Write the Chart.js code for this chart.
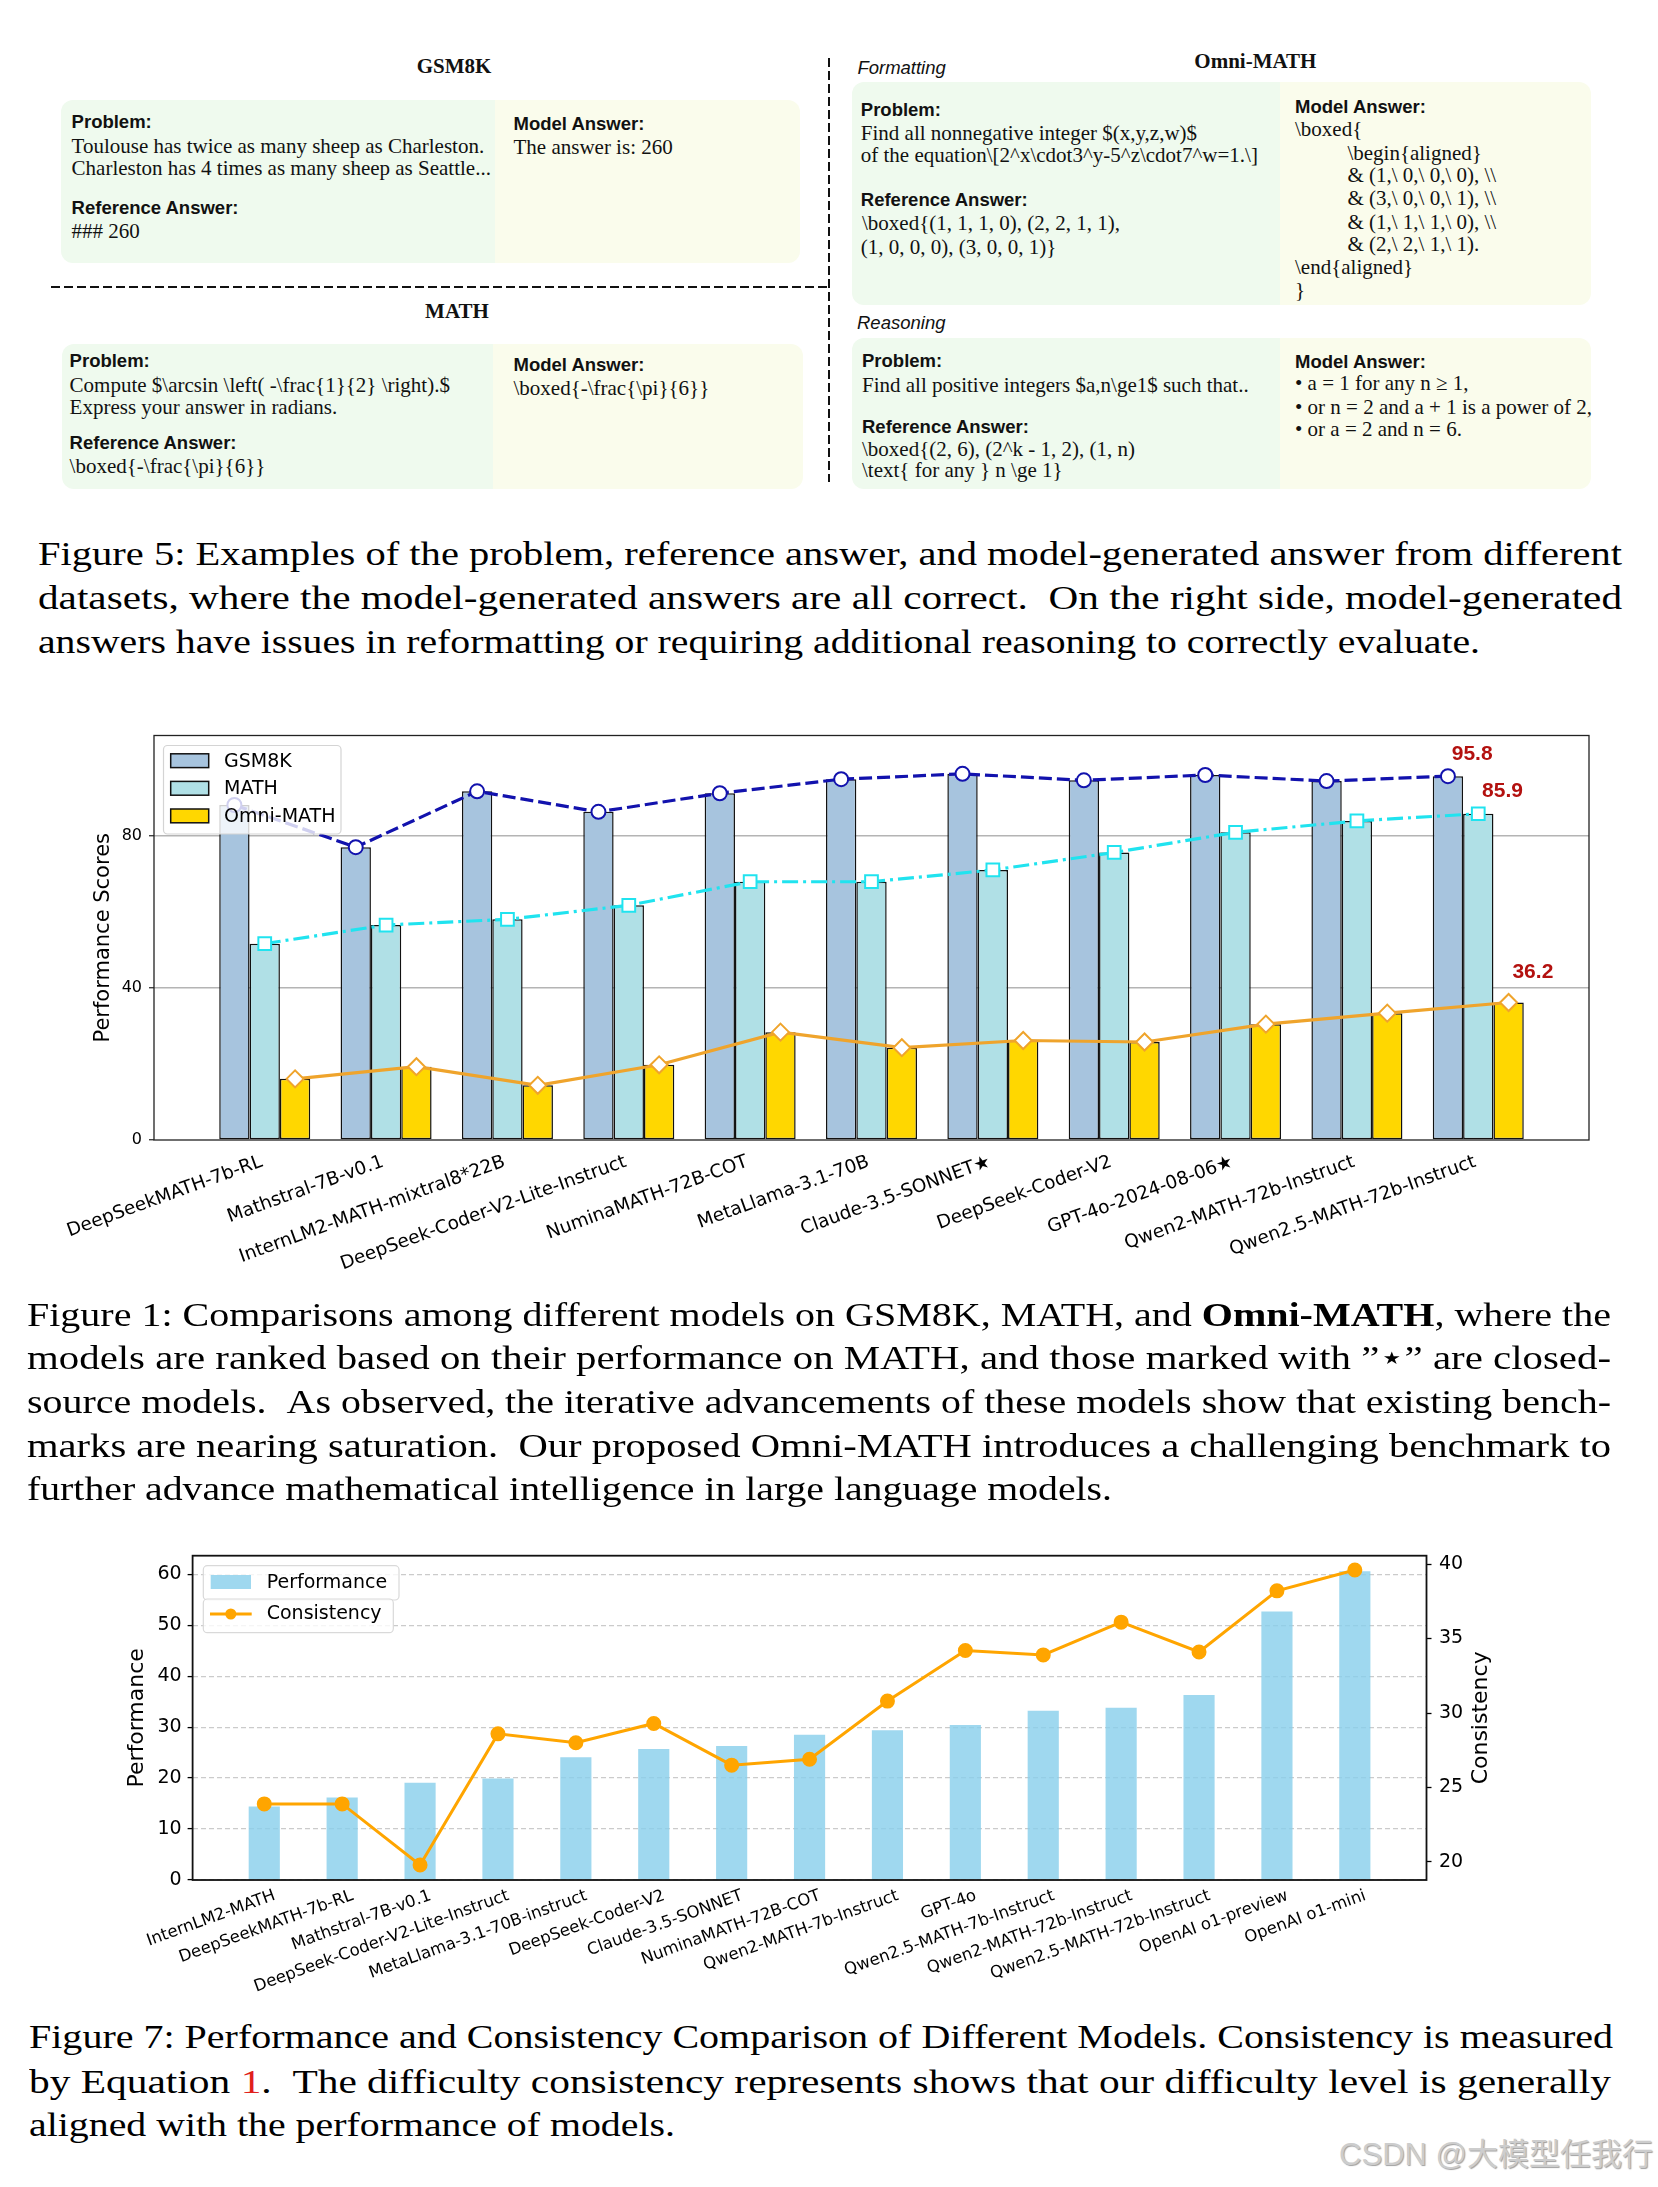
<!DOCTYPE html>
<html>
<head>
<meta charset="utf-8">
<title>Omni-MATH figures</title>
<script src="https://cdn.jsdelivr.net/npm/chart.js@4.4.1/dist/chart.umd.min.js"></script>
<style>
  html, body { margin: 0; padding: 0; background: #fff; }
  #page { position: relative; width: 1658px; height: 2187px; overflow: hidden; background: #fff; }
  .t { position: absolute; white-space: nowrap; line-height: 24px; color: #111; }
  .serif { font-family: 'Liberation Serif', 'Times New Roman', serif; font-size: 21px; }
  .hd { font-family: 'Liberation Sans', Arial, sans-serif; font-weight: bold; font-size: 18.5px; }
  .it { font-family: 'Liberation Sans', Arial, sans-serif; font-style: italic; font-size: 18.5px; }
  .ttl { font-family: 'Liberation Serif', serif; font-weight: bold; font-size: 21px; transform: translateX(-50%); }
  .box { position: absolute; border-radius: 12px; overflow: hidden; }
  .box .l, .box .r { position: absolute; top: 0; bottom: 0; }
  .box .l { left: 0; background: #effaee; }
  .box .r { right: 0; background: #fafcec; }
  .hdash { position: absolute; height: 2px; background: repeating-linear-gradient(to right, #111 0 9px, transparent 9px 13px); }
  .vdash { position: absolute; width: 2px; background: repeating-linear-gradient(to bottom, #111 0 9px, transparent 9px 13px); }
  .cap { position: absolute; display: inline-block; white-space: nowrap; font-family: 'Liberation Serif', 'Times New Roman', serif; font-size: 34px; line-height: 44px; color: #000; transform-origin: 0 50%; }
  .ref { color: #e0201c; }
  canvas { position: absolute; left: 0; }
  #wm { position: absolute; right: 5px; top: 2135px; line-height: 40px; font-size: 31px; font-family: 'Liberation Sans', 'Noto Sans CJK SC', sans-serif; color: #cdcdcd; text-shadow: 1px 1px 1px #a0a0a0; white-space: nowrap; }
</style>
</head>
<body>
<div id="page">

  <!-- Figure 5: example boxes -->
  <div class="vdash" style="left:828px; top:58px; height:424px"></div>
  <div class="hdash" style="left:51px; top:286px; width:779px"></div>

  <div class="box" style="left:61px; top:100px; width:739px; height:163px"><div class="l" style="width:434px"></div><div class="r" style="width:305px"></div></div>
  <div class="box" style="left:62px; top:344px; width:741px; height:145px"><div class="l" style="width:431px"></div><div class="r" style="width:310px"></div></div>
  <div class="box" style="left:852px; top:82px; width:739px; height:223px"><div class="l" style="width:428px"></div><div class="r" style="width:311px"></div></div>
  <div class="box" style="left:852px; top:338px; width:739px; height:151px"><div class="l" style="width:428px"></div><div class="r" style="width:311px"></div></div>

  <div class="t ttl" style="left:454px; top:54px">GSM8K</div>
  <div class="t hd" style="left:71.6px; top:110px">Problem:</div>
  <div class="t serif" style="left:71.6px; top:134px">Toulouse has twice as many sheep as Charleston.</div>
  <div class="t serif" style="left:71.6px; top:156.3px">Charleston has 4 times as many sheep as Seattle...</div>
  <div class="t hd" style="left:71.6px; top:196.3px">Reference Answer:</div>
  <div class="t serif" style="left:71.6px; top:219px">### 260</div>
  <div class="t hd" style="left:513.5px; top:112.3px">Model Answer:</div>
  <div class="t serif" style="left:513.5px; top:135.3px">The answer is: 260</div>

  <div class="t ttl" style="left:457px; top:298.7px">MATH</div>
  <div class="t hd" style="left:69.6px; top:348.7px">Problem:</div>
  <div class="t serif" style="left:69.6px; top:373px">Compute $\arcsin \left( -\frac{1}{2} \right).$</div>
  <div class="t serif" style="left:69.6px; top:394.7px">Express your answer in radians.</div>
  <div class="t hd" style="left:69.6px; top:431.3px">Reference Answer:</div>
  <div class="t serif" style="left:69.6px; top:454px">\boxed{-\frac{\pi}{6}}</div>
  <div class="t hd" style="left:513.5px; top:353px">Model Answer:</div>
  <div class="t serif" style="left:513.5px; top:376.3px">\boxed{-\frac{\pi}{6}}</div>

  <div class="t it" style="left:857.4px; top:56.3px">Formatting</div>
  <div class="t ttl" style="left:1255.4px; top:48.7px">Omni-MATH</div>
  <div class="t hd" style="left:860.8px; top:98px">Problem:</div>
  <div class="t serif" style="left:860.8px; top:120.7px">Find all nonnegative integer $(x,y,z,w)$</div>
  <div class="t serif" style="left:860.8px; top:143px">of the equation\[2^x\cdot3^y-5^z\cdot7^w=1.\]</div>
  <div class="t hd" style="left:860.8px; top:188px">Reference Answer:</div>
  <div class="t serif" style="left:862px; top:211.3px">\boxed{(1, 1, 1, 0), (2, 2, 1, 1),</div>
  <div class="t serif" style="left:860.8px; top:234.7px">(1, 0, 0, 0), (3, 0, 0, 1)}</div>
  <div class="t hd" style="left:1295px; top:94.7px">Model Answer:</div>
  <div class="t serif" style="left:1295px; top:117.3px">\boxed{</div>
  <div class="t serif" style="left:1347.4px; top:140.7px">\begin{aligned}</div>
  <div class="t serif" style="left:1347.4px; top:163px">&amp; (1,\ 0,\ 0,\ 0), \\</div>
  <div class="t serif" style="left:1347.4px; top:186.3px">&amp; (3,\ 0,\ 0,\ 1), \\</div>
  <div class="t serif" style="left:1347.4px; top:209.7px">&amp; (1,\ 1,\ 1,\ 0), \\</div>
  <div class="t serif" style="left:1347.4px; top:232px">&amp; (2,\ 2,\ 1,\ 1).</div>
  <div class="t serif" style="left:1295px; top:254.7px">\end{aligned}</div>
  <div class="t serif" style="left:1295px; top:278px">}</div>

  <div class="t it" style="left:857px; top:310.7px">Reasoning</div>
  <div class="t hd" style="left:862px; top:348.7px">Problem:</div>
  <div class="t serif" style="left:862px; top:373px">Find all positive integers $a,n\ge1$ such that..</div>
  <div class="t hd" style="left:862px; top:414.7px">Reference Answer:</div>
  <div class="t serif" style="left:862px; top:437.3px">\boxed{(2, 6), (2^k - 1, 2), (1, n)</div>
  <div class="t serif" style="left:862px; top:458px">\text{ for any } n \ge 1}</div>
  <div class="t hd" style="left:1295px; top:349.7px">Model Answer:</div>
  <div class="t serif" style="left:1295px; top:371.3px">• a = 1 for any n ≥ 1,</div>
  <div class="t serif" style="left:1295px; top:394.7px">• or n = 2 and a + 1 is a power of 2,</div>
  <div class="t serif" style="left:1295px; top:417.3px">• or a = 2 and n = 6.</div>

  <div class="cap" data-w="1584" style="left:37.7px; top:531.6px">Figure 5: Examples of the problem, reference answer, and model-generated answer from different</div>
  <div class="cap" data-w="1584" style="left:37.7px; top:576.2px">datasets, where the model-generated answers are all correct.&ensp;On the right side, model-generated</div>
  <div class="cap" data-w="1442" style="left:37.7px; top:619.5px">answers have issues in reformatting or requiring additional reasoning to correctly evaluate.</div>

  <canvas id="fig1" width="1658" height="600" style="top:700px"></canvas>

  <div class="cap" data-w="1584" style="left:26.5px; top:1293px">Figure 1: Comparisons among different models on GSM8K, MATH, and <b>Omni-MATH</b>, where the</div>
  <div class="cap" data-w="1584" style="left:26.5px; top:1336px">models are ranked based on their performance on MATH, and those marked with ”⋆” are closed-</div>
  <div class="cap" data-w="1584" style="left:26.5px; top:1379.5px">source models.&ensp;As observed, the iterative advancements of these models show that existing bench-</div>
  <div class="cap" data-w="1584" style="left:26.5px; top:1424px">marks are nearing saturation.&ensp;Our proposed Omni-MATH introduces a challenging benchmark to</div>
  <div class="cap" data-w="1085" style="left:26.5px; top:1467px">further advance mathematical intelligence in large language models.</div>

  <canvas id="fig7" width="1658" height="480" style="top:1530px"></canvas>

  <div class="cap" data-w="1584" style="left:29.3px; top:2015.4px">Figure 7: Performance and Consistency Comparison of Different Models. Consistency is measured</div>
  <div class="cap" data-w="1582" style="left:29.3px; top:2060px">by Equation <span class="ref">1</span>.&ensp;The difficulty consistency represents shows that our difficulty level is generally</div>
  <div class="cap" data-w="646" style="left:29.3px; top:2103px">aligned with the performance of models.</div>

  <div id="wm">CSDN @大模型任我行</div>
</div>

<script>
// Figure 1 data, models ranked by MATH
const models1 = ['DeepSeekMATH-7b-RL', 'Mathstral-7B-v0.1', 'InternLM2-MATH-mixtral8*22B', 'DeepSeek-Coder-V2-Lite-Instruct', 'NuminaMATH-72B-COT', 'MetaLlama-3.1-70B', 'Claude-3.5-SONNET★', 'DeepSeek-Coder-V2', 'GPT-4o-2024-08-06★', 'Qwen2-MATH-72b-Instruct', 'Qwen2.5-MATH-72b-Instruct']
const gsm8k = [88.2, 77.1, 91.8, 86.4, 91.3, 95.0, 96.4, 94.7, 96.1, 94.5, 95.8]
const math = [51.7, 56.6, 58.1, 61.8, 68.0, 68.0, 71.1, 75.7, 81.0, 84.0, 85.9]
const omni = [16.1, 19.3, 14.4, 19.8, 28.4, 24.3, 26.2, 25.8, 30.5, 33.4, 36.2]
const series1 = ['GSM8K', 'MATH', 'Omni-MATH']
const scoreTicks = [0, 40, 80]

// Figure 7 data
const models7 = ['InternLM2-MATH', 'DeepSeekMATH-7b-RL', 'Mathstral-7B-v0.1', 'DeepSeek-Coder-V2-Lite-Instruct', 'MetaLlama-3.1-70B-instruct', 'DeepSeek-Coder-V2', 'Claude-3.5-SONNET', 'NuminaMATH-72B-COT', 'Qwen2-MATH-7b-Instruct', 'GPT-4o', 'Qwen2.5-MATH-7b-Instruct', 'Qwen2-MATH-72b-Instruct', 'Qwen2.5-MATH-72b-Instruct', 'OpenAI o1-preview', 'OpenAI o1-mini']
const performance = [14.4, 16.2, 19.1, 19.9, 24.1, 25.7, 26.3, 28.5, 29.4, 30.4, 33.2, 33.8, 36.3, 52.7, 60.6]
const consistency = [23.9, 23.9, 19.8, 28.6, 28.0, 29.3, 26.5, 26.9, 30.8, 34.2, 33.9, 36.1, 34.1, 38.2, 39.6]
const perfTicks = [0, 10, 20, 30, 40, 50, 60]
const consTicks = [20, 25, 30, 35, 40]

// stretch caption lines to the width they take on the page
document.querySelectorAll('.cap').forEach(el => {
    const w = el.getBoundingClientRect().width
    el.style.transform = `scaleX(${el.dataset.w / w})`
})

const FONT = "'DejaVu Sans', sans-serif"
Chart.defaults.font.family = FONT
Chart.defaults.color = '#000'

const barColors = ['#a7c4de', '#b0e0e6', '#ffd700']
const lineColors = ['#1212ad', '#20e3ef', '#efa42c']
const at = (vals, shift) => vals.map((v, i) => ({x: i + shift, y: v}))
const fixedTicks = list => scale => { scale.ticks = list.map(v => ({value: v})) }

const frame = {
    id: 'frame',
    afterDatasetsDraw(chart, args, opts) {
        const {ctx, chartArea: a} = chart
        ctx.save()
        ctx.strokeStyle = opts.color
        ctx.lineWidth = opts.width
        ctx.strokeRect(a.left, a.top, a.right - a.left, a.bottom - a.top)
        ctx.restore()
    }
}

const fig1Legend = {
    id: 'fig1Legend',
    afterDraw(chart) {
        const {ctx, chartArea: a} = chart
        const x = a.left + 9.5, y = a.top + 10
        ctx.save()
        ctx.beginPath()
        ctx.roundRect(x, y, 177.5, 88.5, 4)
        ctx.fillStyle = 'rgba(255,255,255,0.8)'
        ctx.fill()
        ctx.strokeStyle = '#d4d4d4'
        ctx.lineWidth = 1.2
        ctx.stroke()
        ctx.font = '19px ' + FONT
        ctx.textBaseline = 'middle'
        series1.forEach((name, k) => {
            const cy = a.top + 25.2 + k * 27.6
            ctx.fillStyle = barColors[k]
            ctx.fillRect(x + 7.2, cy - 6.9, 38, 13.8)
            ctx.strokeStyle = '#111'
            ctx.lineWidth = 1.5
            ctx.strokeRect(x + 7.2, cy - 6.9, 38, 13.8)
            ctx.fillStyle = '#000'
            ctx.fillText(name, a.left + 70, cy + 1)
        })
        ctx.restore()
    }
}

// last value of each series, written above its marker
const finalLabels = [
    {data: gsm8k, shift: -0.25, lift: 5.7},
    {data: math, shift: 0, lift: 6.0},
    {data: omni, shift: 0.25, lift: 7.9},
]
const endLabels = {
    id: 'endLabels',
    afterDraw(chart) {
        const {ctx, scales: {x, y}} = chart
        ctx.save()
        ctx.font = "bold 21px 'Liberation Sans', Arial, sans-serif"
        ctx.fillStyle = '#b3110f'
        ctx.textAlign = 'center'
        ctx.textBaseline = 'middle'
        finalLabels.forEach(l => {
            const i = l.data.length - 1
            ctx.fillText(l.data[i].toFixed(1), x.getPixelForValue(i + l.shift + 0.2), y.getPixelForValue(l.data[i] + l.lift))
        })
        ctx.restore()
    }
}

const lineSet = (k, vals, shift, style, radius, dash) => ({
    type: 'line',
    label: series1[k] + ' trend',
    data: at(vals, shift),
    borderColor: lineColors[k],
    borderWidth: 3.2,
    borderDash: dash,
    tension: 0,
    pointStyle: style,
    pointRadius: radius,
    pointBackgroundColor: '#fff',
    pointBorderColor: lineColors[k],
    pointBorderWidth: 2,
    order: 1,
})
const barSet = (k, vals) => ({
    label: series1[k],
    data: at(vals, 0),
    backgroundColor: barColors[k],
    borderColor: '#111',
    borderWidth: 1.5,
    borderSkipped: false,
    categoryPercentage: 0.75,
    barPercentage: 1,
    order: 2,
})

new Chart(document.getElementById('fig1'), {
    type: 'bar',
    data: {
        datasets: [
            lineSet(0, gsm8k, -0.25, 'circle', 7, [13, 5]),
            lineSet(1, math, 0, 'rect', 9, [16, 5, 3, 5]),
            lineSet(2, omni, 0.25, 'rectRot', 8.5, []),
            barSet(0, gsm8k),
            barSet(1, math),
            barSet(2, omni),
        ]
    },
    options: {
        responsive: false,
        animation: false,
        layout: {padding: {left: 0, right: 69, top: 35.5, bottom: 0}},
        scales: {
            x: {
                type: 'linear',
                min: -0.9125,
                max: models1.length - 1 + 0.9125,
                bounds: 'data',
                offset: false,
                afterBuildTicks: fixedTicks(models1.map((_, i) => i)),
                afterFit: s => { s.height = 160 },
                grid: {display: true, drawOnChartArea: false, drawTicks: false, offset: false},
                border: {display: false},
                ticks: {autoSkip: false, minRotation: 20, maxRotation: 20, padding: 11, labelOffset: -3, font: {size: 18.5}, callback: v => models1[v]}
            },
            y: {
                min: 0,
                max: 106.5,
                bounds: 'data',
                afterBuildTicks: fixedTicks(scoreTicks),
                afterFit: s => { s.width = 154 },
                grid: {color: c => c.tick && c.tick.value === 0 ? 'rgba(0,0,0,0)' : '#b4b4b4', lineWidth: 1.5, tickColor: '#222', tickLength: 5, tickWidth: 1.2},
                border: {display: false},
                ticks: {padding: 7, font: {size: 16}},
                title: {display: true, text: 'Performance Scores', font: {size: 21}, padding: {top: 91.4, bottom: 0}}
            }
        },
        plugins: {
            legend: {display: false},
            tooltip: {enabled: false},
            frame: {color: '#222', width: 1.3}
        }
    },
    plugins: [frame, fig1Legend, endLabels]
})

const fig7Legend = {
    id: 'fig7Legend',
    afterDraw(chart) {
        const {ctx, chartArea: a} = chart
        const x = a.left + 10.7
        ctx.save()
        ctx.font = '19px ' + FONT
        ctx.textBaseline = 'middle'
        const boxes = [[a.top + 10, 195.7, 34.3], [a.top + 43.3, 190, 33.7]]
        boxes.forEach(([y, w, h]) => {
            ctx.beginPath()
            ctx.roundRect(x, y, w, h, 4)
            ctx.fillStyle = 'rgba(255,255,255,0.8)'
            ctx.fill()
            ctx.strokeStyle = '#d9d9d9'
            ctx.lineWidth = 1.2
            ctx.stroke()
        })
        const bars = chart.data.datasets[1], line = chart.data.datasets[0]
        ctx.fillStyle = bars.backgroundColor
        ctx.fillRect(a.left + 18.1, a.top + 19.3, 40.3, 14)
        ctx.fillStyle = '#000'
        ctx.fillText(bars.label, a.left + 74.1, a.top + 27.2)
        ctx.strokeStyle = line.borderColor
        ctx.lineWidth = 3
        ctx.beginPath()
        ctx.moveTo(a.left + 17.4, a.top + 58.3)
        ctx.lineTo(a.left + 59.1, a.top + 58.3)
        ctx.stroke()
        ctx.fillStyle = line.borderColor
        ctx.beginPath()
        ctx.arc(a.left + 38.2, a.top + 58.3, 5.5, 0, Math.PI * 2)
        ctx.fill()
        ctx.fillStyle = '#000'
        ctx.fillText(line.label, a.left + 74.1, a.top + 58.2)
        ctx.restore()
    }
}

// right axis title, read bottom to top like the left one
const rightTitle = {
    id: 'rightTitle',
    afterDraw(chart, args, opts) {
        const {ctx, chartArea: a} = chart
        const s = chart.scales.y1
        ctx.save()
        ctx.translate(s.left + opts.offset, (a.top + a.bottom) / 2)
        ctx.rotate(-Math.PI / 2)
        ctx.font = '22px ' + FONT
        ctx.fillStyle = '#000'
        ctx.textAlign = 'center'
        ctx.textBaseline = 'middle'
        ctx.fillText(opts.text, 0, 0)
        ctx.restore()
    }
}

new Chart(document.getElementById('fig7'), {
    type: 'bar',
    data: {
        datasets: [
            {
                type: 'line',
                label: 'Consistency',
                data: at(consistency, 0),
                yAxisID: 'y1',
                borderColor: '#ffa500',
                backgroundColor: '#ffa500',
                borderWidth: 3,
                tension: 0,
                pointRadius: 6,
                pointBackgroundColor: '#ffa500',
                pointBorderColor: '#ffa500',
                order: 1,
            },
            {
                label: 'Performance',
                data: at(performance, 0),
                yAxisID: 'y',
                backgroundColor: 'rgba(135,206,235,0.8)',
                categoryPercentage: 0.4,
                barPercentage: 1,
                order: 2,
            }
        ]
    },
    options: {
        responsive: false,
        animation: false,
        layout: {padding: {left: 0, right: 0, top: 25.7, bottom: 0}},
        scales: {
            x: {
                type: 'linear',
                min: -0.92,
                max: models7.length - 1 + 0.92,
                bounds: 'data',
                offset: false,
                afterBuildTicks: fixedTicks(models7.map((_, i) => i)),
                afterFit: s => { s.height = 130 },
                grid: {display: true, drawOnChartArea: false, drawTicks: false, offset: false},
                border: {display: false},
                ticks: {autoSkip: false, minRotation: 20, maxRotation: 20, padding: 6, labelOffset: 10.5, font: {size: 16.5}, callback: v => models7[v]}
            },
            y: {
                position: 'left',
                min: 0,
                max: 63.63,
                bounds: 'data',
                afterBuildTicks: fixedTicks(perfTicks),
                afterFit: s => { s.width = 192.6 },
                grid: {color: '#cbcbcb', lineWidth: 1.2, tickColor: '#000', tickLength: 5, tickWidth: 1.3},
                border: {display: false, dash: [5, 3]},
                ticks: {padding: 6, font: {size: 19}},
                title: {display: true, text: 'Performance', font: {size: 22}, padding: {top: 124.5, bottom: 0}}
            },
            y1: {
                position: 'right',
                min: 18.79,
                max: 40.56,
                bounds: 'data',
                afterBuildTicks: fixedTicks(consTicks),
                afterFit: s => { s.width = 231.5 },
                grid: {drawOnChartArea: false, tickColor: '#000', tickLength: 5, tickWidth: 1.3},
                border: {display: false},
                ticks: {padding: 7.5, font: {size: 19}}
            }
        },
        plugins: {
            legend: {display: false},
            tooltip: {enabled: false},
            frame: {color: '#111', width: 1.8},
            rightTitle: {text: 'Consistency', offset: 55.2}
        }
    },
    plugins: [frame, fig7Legend, rightTitle]
})
</script>
</body>
</html>
